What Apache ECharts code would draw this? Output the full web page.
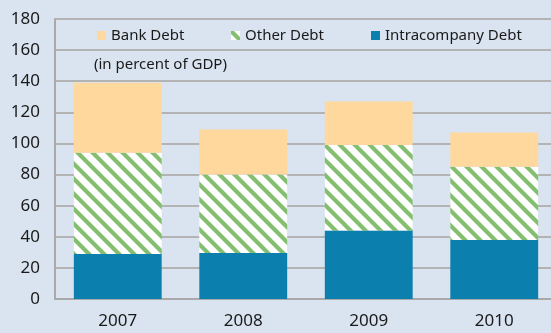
<!DOCTYPE html>
<html>
<head>
<meta charset="utf-8">
<style>
  html, body { margin: 0; padding: 0; background: #d9e4f0; overflow: hidden; }
  #chart { width: 562px; height: 333px; }
</style>
<script src="https://cdn.jsdelivr.net/npm/echarts@6/dist/echarts.min.js"></script>
</head>
<body>
<div id="chart"></div>
<script>
// Debt stock by type, in percent of GDP
const years = ['2007', '2008', '2009', '2010'];
const intracompanyDebt = [29, 29.5, 44, 38];
const otherDebt = [65, 50.5, 55, 47];
const bankDebt = [45, 29, 28, 22];
const yTicks = { min: 0, max: 180, step: 20 };

const FONT = '"Noto Sans", "Open Sans", sans-serif';

// Green diagonal hatching for "Other Debt"
function hatchPattern() {
  const s = 15;
  const c = document.createElement('canvas');
  c.width = s; c.height = s;
  const g = c.getContext('2d');
  g.fillStyle = '#ffffff';
  g.fillRect(0, 0, s, s);
  g.strokeStyle = '#84bf70';
  g.lineWidth = 4.2;
  g.beginPath();
  g.moveTo(-4, -4); g.lineTo(s + 4, s + 4);
  g.moveTo(-4 - s, -4); g.lineTo(4, s + 4);
  g.moveTo(s - 4, -4); g.lineTo(2 * s + 4, s + 4);
  g.stroke();
  return { image: c, repeat: 'repeat' };
}

const chart = echarts.init(document.getElementById('chart'), null, { renderer: 'canvas' });

const legendBase = {
  top: 28,
  padding: 0,
  itemWidth: 9,
  itemHeight: 9,
  icon: 'rect',
  textStyle: { fontFamily: FONT, fontSize: 15, color: '#1a1a1a' }
};

chart.setOption({
  backgroundColor: '#d9e4f0',
  animation: false,
  grid: { left: 55, top: 19, width: 502, height: 280, containLabel: false },
  legend: [
    Object.assign({}, legendBase, { left: 97, data: ['Bank Debt'] }),
    Object.assign({}, legendBase, { left: 231, data: ['Other Debt'] }),
    Object.assign({}, legendBase, { left: 371, data: ['Intracompany Debt'] })
  ],
  graphic: [{
    type: 'text',
    left: 94,
    top: 57,
    style: { text: '(in percent of GDP)', fontFamily: FONT, fontSize: 15, fill: '#1a1a1a' }
  }],
  xAxis: {
    type: 'category',
    data: years,
    axisLine: { lineStyle: { color: '#a9a9a9', width: 2 } },
    axisTick: { show: false },
    axisLabel: { fontFamily: FONT, fontSize: 17, color: '#1a1a1a', margin: 14 }
  },
  yAxis: {
    type: 'value',
    min: yTicks.min,
    max: yTicks.max,
    interval: yTicks.step,
    axisLine: { show: true, lineStyle: { color: '#a9a9a9', width: 2 } },
    axisTick: { show: false },
    splitLine: { lineStyle: { color: '#b3b3b3', width: 2 } },
    axisLabel: { fontFamily: FONT, fontSize: 17, color: '#1a1a1a', margin: 15 }
  },
  series: [
    {
      name: 'Intracompany Debt', type: 'bar', stack: 'debt', barWidth: '70%',
      data: intracompanyDebt, itemStyle: { color: '#0b80ae' }
    },
    {
      name: 'Other Debt', type: 'bar', stack: 'debt', barWidth: '70%',
      data: otherDebt, itemStyle: { color: hatchPattern() }
    },
    {
      name: 'Bank Debt', type: 'bar', stack: 'debt', barWidth: '70%',
      data: bankDebt, itemStyle: { color: '#ffd89d' }
    }
  ]
});
</script>
</body>
</html>
